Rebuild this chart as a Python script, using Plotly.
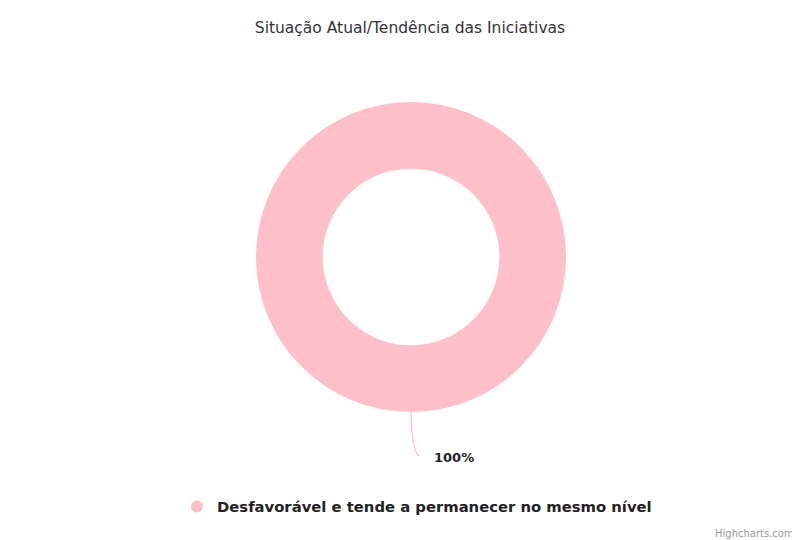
import plotly.graph_objects as go

title_text = "Situação Atual/Tendência das Iniciativas"
categories = ["Desfavorável e tende a permanecer no mesmo nível"]
values = [100]
colors = ["#ffc0cb"]
pct_labels = ["100%"]
credit_text = "Highcharts.com"

W, H = 800, 540
OFF = 8  # page body margin offset
cx, cy, r_out = 411 - OFF, 257 - OFF, 155


def px(x):
    return x / W


def py(y):
    return 1 - y / H


fig = go.Figure()
fig.add_trace(go.Pie(
    labels=categories, values=values, hole=0.57, sort=False,
    marker=dict(colors=colors, line=dict(width=0)),
    textinfo="none", showlegend=False, hoverinfo="label+percent",
    domain=dict(x=[px(cx - r_out), px(cx + r_out)],
                y=[py(cy + r_out), py(cy - r_out)]),
))
# legend entry with a round marker
fig.add_trace(go.Scatter(
    x=[None], y=[None], mode="markers", name=categories[0],
    marker=dict(symbol="circle", size=15, color=colors[0]),
    showlegend=True,
))

# connector and label for the slice
fig.add_shape(type="path",
              path=f"M {px(cx)} {py(cy + r_out)} Q {px(cx + 1)} {py(452 - OFF)} {px(cx + 8)} {py(456 - OFF)}",
              xref="paper", yref="paper", line=dict(color="#ffc0cb", width=1.2))
fig.add_annotation(x=px(cx + 21), y=py(457 - OFF), xref="paper", yref="paper",
                   text="<b>" + pct_labels[0] + "</b>", showarrow=False,
                   xanchor="left", yanchor="middle",
                   font=dict(family="DejaVu Sans", size=13, color="#222"))
fig.add_annotation(x=px(796 - OFF), y=py(533 - OFF), xref="paper", yref="paper",
                   text=credit_text, showarrow=False, xanchor="right", yanchor="middle",
                   font=dict(family="DejaVu Sans", size=10, color="#999"))

fig.update_layout(
    width=W, height=H,
    margin=dict(l=0, r=0, t=0, b=0),
    paper_bgcolor="white", plot_bgcolor="white",
    title=dict(text=title_text, x=px(410 - OFF), xanchor="center", y=py(28 - OFF), yanchor="middle",
               font=dict(family="DejaVu Sans", size=15.5, color="#333")),
    xaxis=dict(visible=False), yaxis=dict(visible=False),
    legend=dict(orientation="h", x=px(417 - OFF), xanchor="center", y=py(507 - OFF), yanchor="middle",
                font=dict(family="DejaVu Sans", size=14.8, color="#222", weight="bold"),
                itemsizing="constant"),
    font=dict(family="DejaVu Sans"),
)

fig.write_html("out.html")
